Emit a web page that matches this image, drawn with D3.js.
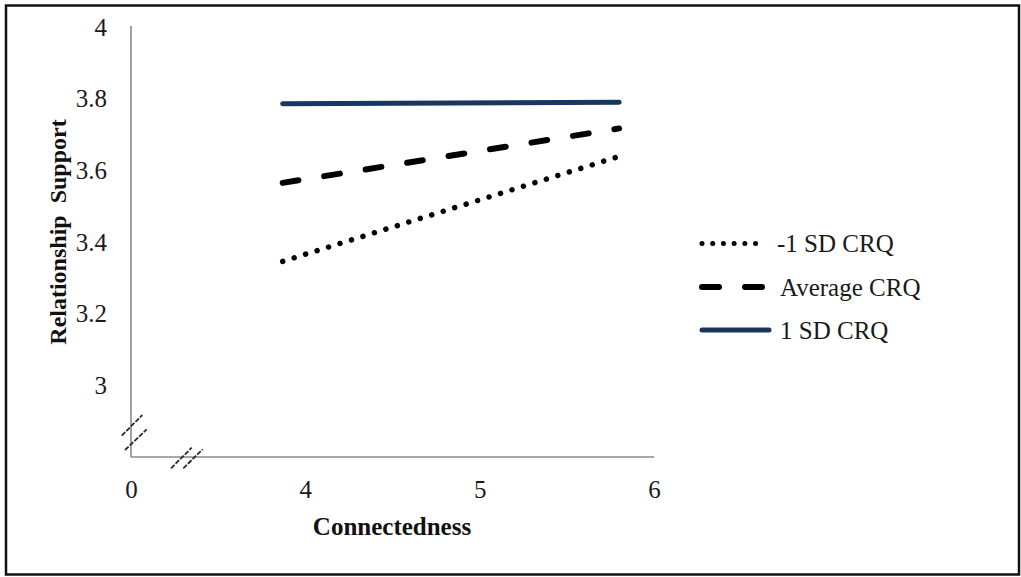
<!DOCTYPE html>
<html><head><meta charset="utf-8">
<script src="https://cdn.jsdelivr.net/npm/d3@7"></script>
<style>body{margin:0;background:#fff}svg{display:block}text{font-family:"Liberation Serif","Times New Roman",serif}</style>
</head><body>
<svg id="c" width="1021" height="577"></svg>
<script>
// Data
const seriesNames = ["-1 SD CRQ", "Average CRQ", "1 SD CRQ"];
const xValues = [3.87, 5.8];
const lowCRQ = [3.346, 3.639];
const avgCRQ = [3.565, 3.717];
const highCRQ = [3.786, 3.79];
const xTickValues = [3, 4, 5, 6];
const xTickLabels = ["0", "4", "5", "6"];
const yTickValues = [3, 3.2, 3.4, 3.6, 3.8, 4];
const yTickLabels = ["3", "3.2", "3.4", "3.6", "3.8", "4"];

const svg = d3.select("#c");
const x = d3.scaleLinear().domain([3, 6]).range([131, 654]);
const y = d3.scaleLinear().domain([2.8, 4]).range([457, 27]);

// outer border
svg.append("rect").attr("x", 6).attr("y", 5.5).attr("width", 1013).attr("height", 569)
  .attr("fill", "none").attr("stroke", "#111").attr("stroke-width", 2.5);

// axes
const axisColor = "#8a8a8a";
const yAxis = d3.axisLeft(y).tickValues(yTickValues).tickSize(0).tickFormat((d, i) => yTickLabels[i]);
const gy = svg.append("g").attr("transform", "translate(131,0)").call(yAxis);
gy.select(".domain").attr("stroke", axisColor).attr("stroke-width", 1.6).attr("d", `M0,${y(2.8)}V${y(4)-1}`);
gy.selectAll("text").attr("x", -24).attr("dy", "0.32em").attr("font-size", 25).attr("fill", "#1a1a1a")
  .attr("font-family", "Liberation Serif");

const xAxis = d3.axisBottom(x).tickValues(xTickValues).tickSize(0).tickFormat((d, i) => xTickLabels[i]);
const gx = svg.append("g").attr("transform", `translate(0,${y(2.8)})`).call(xAxis);
gx.select(".domain").attr("stroke", axisColor).attr("stroke-width", 1.6).attr("d", `M${x(3)},0H${x(6)}`);
gx.selectAll("text").attr("y", 41).attr("dy", 0).attr("font-size", 25).attr("fill", "#1a1a1a")
  .attr("font-family", "Liberation Serif");

// axis break marks
const brk = svg.append("g").attr("stroke", "#2a2a2a").attr("stroke-width", 1.8).attr("stroke-dasharray", "5,1.5");
[[121.7,435.7,142.3,415],[125,450,146.7,429.3],[171,468.3,191.7,447.7],[183.3,468.3,202.7,449.3]].forEach(s => {
  brk.append("line").attr("x1", s[0]).attr("y1", s[1]).attr("x2", s[2]).attr("y2", s[3]);
});

// axis titles
svg.append("text").attr("transform", "translate(66,232) rotate(-90)").attr("text-anchor", "middle")
  .attr("font-size", 24).attr("font-weight", "bold").attr("fill", "#111")
  .style("white-space", "pre").text("Relationship  Support");
svg.append("text").attr("x", 392).attr("y", 535).attr("text-anchor", "middle")
  .attr("font-size", 25).attr("font-weight", "bold").attr("fill", "#111").text("Connectedness");

// lines
const styles = [
  {data: lowCRQ, color: "#000", width: 5.5, dash: "0.01,12", cap: "round"},
  {data: avgCRQ, color: "#000", width: 6, dash: "16,26", cap: "round"},
  {data: highCRQ, color: "#17375e", width: 5, dash: null, cap: "round"}
];
const line = d3.line().x(d => x(d[0])).y(d => y(d[1]));
styles.forEach(s => {
  svg.append("path").datum(xValues.map((xv, i) => [xv, s.data[i]]))
    .attr("d", line).attr("fill", "none").attr("stroke", s.color)
    .attr("stroke-width", s.width).attr("stroke-linecap", s.cap)
    .attr("stroke-dasharray", s.dash);
});

// legend
const legY = [243.5, 287, 330];
const legendDash = ["0.01,10.7", "17,26", null];
seriesNames.forEach((name, i) => {
  const s = styles[i];
  svg.append("line").attr("x1", 702).attr("x2", i === 2 ? 769 : 765).attr("y1", legY[i]).attr("y2", legY[i])
    .attr("stroke", s.color).attr("stroke-width", i === 0 ? 5 : s.width).attr("stroke-linecap", "round")
    .attr("stroke-dasharray", legendDash[i]);
  svg.append("text").attr("x", i === 0 ? 777 : 780).attr("y", legY[i] + 8.5).attr("font-size", 25)
    .attr("fill", "#1a1a1a").text(name);
});
</script>
</body></html>
